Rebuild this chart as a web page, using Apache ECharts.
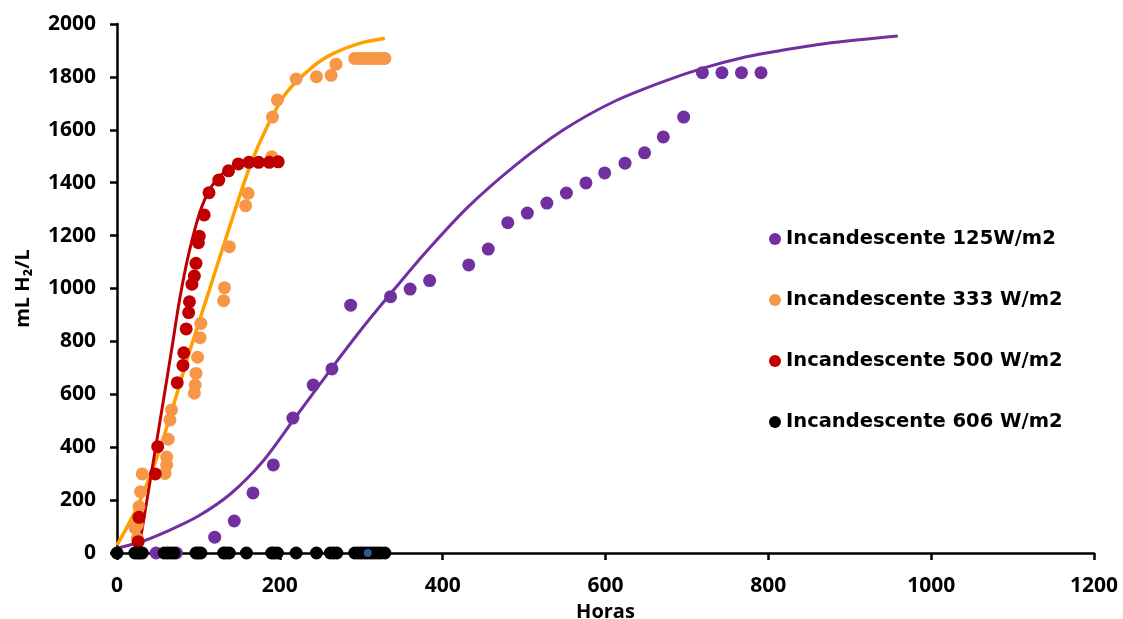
<!DOCTYPE html>
<html>
<head>
<meta charset="utf-8">
<script src="https://cdn.jsdelivr.net/npm/echarts@6/dist/echarts.min.js"></script>
<style>
  html, body { margin: 0; padding: 0; background: #fff; }
  #chart { width: 1123px; height: 619px; }
</style>
</head>
<body>
<div id="chart"></div>
<script>
// horas, mL H2/L
const inc125Points = [
  [48, 0], [73, 0], [120, 60], [144, 121], [167, 227], [192, 333], [216, 510],
  [241, 635], [264, 696], [287, 937], [336, 969], [360, 998], [384, 1030],
  [432, 1089], [456, 1149], [480, 1249], [504, 1285], [528, 1323], [552, 1361],
  [576, 1399], [599, 1437], [624, 1474], [648, 1513], [671, 1573], [696, 1648],
  [719, 1816], [743, 1816], [767, 1816], [791, 1816]
];
const inc125Fit = [
  [0, 18], [30, 43], [60, 80], [100, 140], [140, 225], [180, 350], [216, 500],
  [264, 700], [300, 845], [340, 995], [380, 1140], [430, 1305], [487, 1460],
  [548, 1599], [610, 1706], [671, 1782], [719, 1832], [773, 1876], [814, 1899],
  [880, 1930], [959, 1955]
];

const inc333Points = [
  [22, 95], [25, 55], [25, 106], [27, 175], [29, 232], [31, 299], [59, 301],
  [61, 333], [61, 363], [63, 430], [65, 503], [67, 541], [95, 604], [96, 635],
  [97, 679], [99, 740], [102, 814], [103, 868], [131, 954], [132, 1003],
  [138, 1158], [158, 1313], [161, 1360], [190, 1498], [191, 1648], [197, 1713],
  [220, 1792], [245, 1801], [263, 1806], [269, 1848], [292, 1870], [297, 1870],
  [302, 1870], [307, 1870], [312, 1870], [317, 1870], [322, 1870], [327, 1870], [329, 1870]
];
const inc333Fit = [
  [0, 30], [25, 175], [50, 370], [70, 565], [90, 770], [114, 1000], [139, 1240],
  [163, 1460], [184, 1610], [208, 1740], [241, 1840], [266, 1889], [298, 1927], [329, 1946]
];

const inc500Points = [
  [26, 43], [27, 135], [47, 299], [50, 402], [74, 644], [81, 709], [82, 757],
  [85, 847], [88, 909], [89, 950], [92, 1016], [95, 1047], [97, 1095],
  [100, 1173], [101, 1198], [107, 1278], [113, 1362], [125, 1410], [137, 1445],
  [149, 1471], [162, 1477], [174, 1477], [187, 1477], [198, 1479]
];
const inc500Fit = [
  [26, 0], [40, 260], [55, 540], [67, 767], [77, 960], [88, 1130], [102, 1290],
  [115, 1380], [130, 1435], [150, 1465], [175, 1478], [198, 1482]
];

const inc606Points = [
  [0, 0], [22, 0], [25, 0], [28, 0], [31, 0], [58, 0], [62, 0], [66, 0], [70, 0],
  [97, 0], [100, 0], [103, 0], [131, 0], [134, 0], [138, 0], [159, 0], [190, 0],
  [193, 0], [197, 0], [220, 0], [245, 0], [262, 0], [266, 0], [270, 0], [292, 0],
  [296, 0], [300, 0], [304, 0], [308, 0], [312, 0], [316, 0], [320, 0], [324, 0], [329, 0]
];
const extraPoint = [[308, 0]];

const seriesNames = [
  'Incandescente 125W/m2',
  'Incandescente 333 W/m2',
  'Incandescente 500 W/m2',
  'Incandescente 606 W/m2'
];

const font = '"Open Sans", sans-serif';
const chart = echarts.init(document.getElementById('chart'));

const fitLine = (data, color, width) => ({
  type: 'line',
  data: data,
  smooth: 0.3,
  showSymbol: false,
  symbol: 'none',
  silent: true,
  lineStyle: { color: color, width: width },
  z: 1
});

const dots = (name, data, color, size) => ({
  name: name,
  type: 'scatter',
  data: data,
  symbolSize: size,
  itemStyle: { color: color, opacity: 1 },
  z: 3
});

const option = {
  animation: false,
  backgroundColor: '#fff',
  grid: { left: 117, right: 29, top: 24, bottom: 66, outerBoundsMode: 'none' },
  legend: {
    orient: 'vertical',
    left: 764,
    top: 224,
    itemGap: 41,
    itemWidth: 12,
    itemHeight: 12,
    icon: 'circle',
    data: seriesNames,
    textStyle: { fontFamily: '"DejaVu Sans", sans-serif', fontWeight: 'bold', fontSize: 19.5, color: '#000' }
  },
  xAxis: {
    type: 'value',
    min: 0,
    max: 1200,
    interval: 200,
    name: 'Horas',
    nameLocation: 'middle',
    nameGap: 45,
    nameTextStyle: { fontFamily: font, fontWeight: 'bold', fontSize: 20, color: '#000' },
    axisLine: { onZero: false, lineStyle: { color: '#000', width: 2.5 } },
    axisTick: { show: true, inside: false, length: 7, lineStyle: { color: '#000', width: 2.5 } },
    axisLabel: { margin: 23, fontFamily: font, fontWeight: 'bold', fontSize: 21, color: '#000', formatter: (v) => String(v) },
    splitLine: { show: false }
  },
  yAxis: {
    type: 'value',
    min: 0,
    max: 2000,
    interval: 200,
    name: 'mL H₂/L',
    nameLocation: 'middle',
    nameRotate: 90,
    nameGap: 84,
    nameTextStyle: { fontFamily: font, fontWeight: 'bold', fontSize: 20, color: '#000' },
    axisLine: { show: true, lineStyle: { color: '#000', width: 2.5 } },
    axisTick: { show: true, inside: false, length: 7, lineStyle: { color: '#000', width: 2.5 } },
    axisLabel: { margin: 21, fontFamily: font, fontWeight: 'bold', fontSize: 21, color: '#000', formatter: (v) => String(v) },
    splitLine: { show: false }
  },
  series: [
    fitLine(inc125Fit, '#7030A0', 3),
    fitLine(inc333Fit, '#FFA000', 3.5),
    fitLine(inc500Fit, '#C00000', 3),
    dots(seriesNames[0], inc125Points, '#7030A0', 13),
    dots(seriesNames[1], inc333Points, '#F79646', 13),
    dots(seriesNames[2], inc500Points, '#C00000', 13),
    dots(seriesNames[3], inc606Points, '#000000', 13),
    dots('extra', extraPoint, '#2F5597', 8)
  ]
};

chart.setOption(option);
window.addEventListener('resize', () => chart.resize());
</script>
</body>
</html>
